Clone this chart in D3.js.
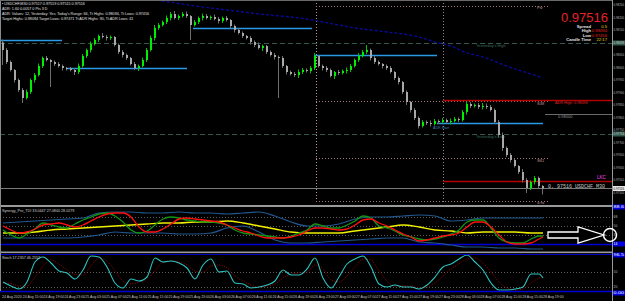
<!DOCTYPE html>
<html>
<head>
<meta charset="utf-8">
<script src="https://cdn.jsdelivr.net/npm/d3@7"></script>
<style>
  html, body { margin:0; padding:0; background:#000; overflow:hidden; }
  svg { display:block; }
  text { font-family: "Liberation Sans", Arial, sans-serif; }
</style>
</head>
<body>
<svg id="chart" width="625" height="301"></svg>
<script>
// ---- data ----
var firstOpen = 0.98100;
var closes = [
  0.98070,0.98022,0.97990,0.97950,0.97910,0.97878,0.97902,0.97950,0.97970,0.98006,
  0.98038,0.98030,0.98022,0.98014,0.98006,0.97998,0.97996,0.97990,0.97982,0.98006,
  0.98046,0.98070,0.98094,0.98110,0.98126,0.98122,0.98118,0.98122,0.98090,0.98062,
  0.98050,0.98038,0.98014,0.97998,0.98006,0.98030,0.98070,0.98118,0.98158,0.98170,
  0.98182,0.98198,0.98214,0.98198,0.98206,0.98214,0.98206,0.98170,0.98182,0.98198,
  0.98206,0.98198,0.98202,0.98194,0.98186,0.98198,0.98190,0.98166,0.98150,0.98138,
  0.98126,0.98118,0.98102,0.98090,0.98078,0.98086,0.98062,0.98050,0.98042,0.98038,
  0.98006,0.97982,0.97974,0.97970,0.97982,0.97990,0.97986,0.97998,0.98046,0.98006,
  0.97998,0.97990,0.97966,0.97982,0.97978,0.97986,0.97990,0.98006,0.98030,0.98046,
  0.98062,0.98070,0.98038,0.98022,0.98014,0.98006,0.97998,0.97982,0.97958,0.97942,
  0.97902,0.97862,0.97830,0.97798,0.97766,0.97782,0.97778,0.97774,0.97786,0.97782,
  0.97790,0.97782,0.97786,0.97794,0.97790,0.97822,0.97854,0.97846,0.97850,0.97842,
  0.97846,0.97842,0.97830,0.97782,0.97730,0.97678,0.97650,0.97630,0.97606,0.97582,
  0.97550,0.97518,0.97542,0.97558,0.97526,0.97516
];
// wick lengths above / below the body, in points
var wickHi = [
  12,8,6,4,6,8,10,6,8,10, 6,8,4,6,8,6,4,6,8,10, 8,6,10,8,6,12,8,6,4,6,
  8,6,4,8,6,10,8,10,12,8, 6,10,8,12,6,8,10,4,8,6, 10,8,6,10,8,6,8,4,6,8,
  6,4,8,6,10,6,4,6,8,6, 8,4,6,8,10,8,6,8,12,4, 6,8,6,4,8,6,10,8,6,12,
  8,20,6,8,6,4,6,8,4,6, 4,6,4,8,6,8,6,10,8,6, 8,6,10,8,6,8,10,8,6,8,
  12,10,8,6,8,10,6,8,6,4, 12,8,6,8,6,4
];
var wickLo = [
  60,8,6,10,8,20,6,8,10,6, 8,6,100,8,6,10,8,6,12,8, 6,8,10,6,8,6,10,8,6,8,
  10,8,6,8,12,6,8,6,10,8, 6,8,10,6,8,6,8,60,6,8, 10,6,8,6,10,8,6,8,10,6,
  8,6,10,8,6,12,8,6,10,160, 8,10,6,8,12,8,6,10,8,6, 10,8,6,12,8,6,10,8,6,8,
  6,8,10,8,6,10,8,6,8,10, 8,12,10,8,10,6,8,10,6,8, 6,8,10,6,8,6,10,8,6,8,
  10,8,6,8,10,12,8,10,6,8, 10,20,8,10,8,24
];
var maBars = [36,40,44,48,52,56,60,64,68,72,76,80,84,88,92,96,100,104,108,112,116,120,124,128,132,135];
var maValues = [0.98278,0.98266,0.98256,0.98246,0.98238,0.98230,0.98222,0.98214,0.98208,0.98202,
  0.98194,0.98182,0.98170,0.98158,0.98150,0.98142,0.98134,0.98122,0.98102,0.98086,
  0.98058,0.98042,0.98018,0.97994,0.97974,0.97958];

var sessionStart = [-0.75, 16, 47.5, 78, 108.5];
var sessionEnd = [14.75, 46, 77.25, 108.5, 135];
var sessionPrices = [0.98110, 0.97998, 0.98158, 0.98050, 0.97778];
var dayStarts = [78.25, 110];
var levelNames = ["Piv", "S38", "S61", "S78"];
var levelPrices = [0.98246, 0.97866, 0.97638, 0.97466];
var yesterdayNames = ["Yesterday's High", "Yesterday's Low"];
var yesterdayPrices = [0.98098, 0.97734];
var redNames = ["ADR High: 0.98094", "LKC"];
var redPrices = [0.97870, 0.97546];
var roundPrice = 0.97814;
var bidPrice = 0.97516;

var timeLabels = ["24 Aug 2020","24 Aug 15:00","24 Aug 19:00","24 Aug 23:00","25 Aug 03:00","25 Aug 07:00",
  "25 Aug 11:00","25 Aug 15:00","25 Aug 19:00","25 Aug 23:00","26 Aug 03:00","26 Aug 07:00","26 Aug 11:00",
  "26 Aug 15:00","26 Aug 19:00","26 Aug 23:00","27 Aug 03:00","27 Aug 07:00","27 Aug 11:00","27 Aug 15:00",
  "27 Aug 19:00","27 Aug 23:00","28 Aug 03:00","28 Aug 07:00","28 Aug 11:00","28 Aug 15:00","28 Aug 19:00"];

// TDI, sampled every 4 bars (slow) and every 2 bars (fast)
var tdiUpper = [56,58,60,62,64,66,76,78,78,76,76,78,76,76,74,76,78,70,58,50,50,54,64,68,68,70,72,70,60,62,66,66,66,66,66];
var tdiLower = [26,26,26,26,26,28,32,38,36,36,36,34,34,36,46,50,38,22,16,16,18,20,22,24,26,26,18,16,12,8,8,6,6,4,4];
var tdiBase = [36,36,38,42,44,46,48,50,52,54,56,56,58,58,60,56,50,44,38,36,36,36,40,44,48,52,48,42,40,36,38,38,38,36,36];
var tdiGreen = [42,32,26,34,44,56,52,48,46,54, 62,68,74,76,70,58,42,36,40,52, 64,68,66,62,60,58,58,56,52,42,
  36,34,32,30,28,26,30,36,42,54, 50,46,46,52,60,70,66,50,46,40, 32,28,24,22,24,28,34,42,58,62, 62,46,26,18,16,16,24,30,30];
var tdiRed = [50,42,36,38,44,52,54,56,52,48, 52,60,68,74,76,76,68,48,38,38, 44,54,64,66,64,62,60,58,52,46,
  40,36,30,26,26,26,28,32,40,46, 46,44,42,44,52,62,64,56,50,42, 34,28,20,22,26,30,32,36,48,58, 58,48,32,18,14,14,16,24,28];
var tdiLevels = [68, 50, 32];
var tdiBlue = 14;

var stochMain = [30,22,16,30,70,80,68,52,48,36, 54,82,80,60,28,18,36,32,40,78, 70,72,68,58,36,64,76,50,52,28,
  26,18,20,24,32,54,44,44,56,78, 38,18,40,66,76,82,60,26,20,24, 20,20,16,24,40,60,66,76,84,70, 54,28,14,14,16,20,46,46,38];
var stochSignal = [28,27,22,22,40,62,74,66,54,45, 44,62,78,72,52,32,26,30,36,52, 70,72,70,64,52,50,62,64,58,42,
  32,24,20,22,26,38,46,48,50,64, 56,34,30,42,60,76,74,52,32,22, 22,22,18,20,28,42,56,66,76,78, 68,50,30,18,14,16,28,38,42];
var stochLevels = [50, 20];

// ---- layout ----
var svg;
var plotR = 612;
var mainBot = 204, tdiTop = 208, tdiBot = 251, stoTop = 254, stoBot = 291;
var x = d3.scaleLinear().domain([0, 135]).range([3, 543]);
var yPrice = d3.scaleLinear().domain([0.97454, 0.98270]).range([204, 0]);
var yTdi = d3.scaleLinear().domain([0, 100]).range([251, 201]);
var ySto = d3.scaleLinear().domain([0, 100]).range([297, 247]);
var slowBars = d3.range(0, 133, 4).concat([135]);
var fastBars = d3.range(0, 135, 2).concat([135]);
var tiny = "3.7px";

document.addEventListener('DOMContentLoaded', function () {
  svg = d3.select("#chart");
  svg.append("rect").attr("width", 625).attr("height", 301).attr("fill", "#000");

  var defs = svg.append("defs");
  defs.append("clipPath").attr("id", "clipMain").append("rect").attr("x", 0).attr("y", 0).attr("width", plotR).attr("height", mainBot);
  defs.append("clipPath").attr("id", "clipTdi").append("rect").attr("x", 0).attr("y", tdiTop).attr("width", plotR).attr("height", tdiBot - tdiTop);
  defs.append("clipPath").attr("id", "clipSto").append("rect").attr("x", 0).attr("y", stoTop).attr("width", plotR).attr("height", stoBot - stoTop);

  drawMain();
  drawTdi();
  drawStoch();
  drawFrame();
  drawInfo();
});

function hline(g, y, x1, x2, color, dash, w) {
  g.append("line").attr("x1", x1).attr("x2", x2)
    .attr("y1", Math.round(y) + 0.5).attr("y2", Math.round(y) + 0.5)
    .attr("stroke", color).attr("stroke-width", w || 1)
    .attr("stroke-dasharray", dash || null);
}

function drawMain() {
  var g = svg.append("g").attr("clip-path", "url(#clipMain)");

  // day separators
  dayStarts.forEach(function (b, k) {
    g.append("line").attr("x1", Math.round(x(b)) + 0.5).attr("x2", Math.round(x(b)) + 0.5)
      .attr("y1", 0).attr("y2", mainBot)
      .attr("stroke", k === 0 ? "#b89a9a" : "#8a8a8a").attr("stroke-dasharray", "1,2");
  });

  // yesterday high / low dashed lines
  yesterdayPrices.forEach(function (p, k) {
    hline(g, yPrice(p), 0, plotR, "#35564c", "5,3");
    g.append("text").attr("x", 476).attr("y", yPrice(p) + 4).attr("fill", "#3d6d5e")
      .style("font-size", "4px").text(yesterdayNames[k]);
  });

  // pivot levels (dotted, from the day start)
  levelPrices.forEach(function (p, k) {
    hline(g, yPrice(p), x(dayStarts[0]), 548, "#a07878", "1,2");
    g.append("text").attr("x", 537).attr("y", yPrice(p) + (k === 0 ? 3 : 4)).attr("fill", "#c09a9a")
      .style("font-size", "4px").text(levelNames[k]);
  });

  // session high/low segments
  sessionPrices.forEach(function (p, k) {
    hline(g, yPrice(p), x(sessionStart[k]), x(sessionEnd[k]), "#2a9ae8", null, 1.3);
  });

  // round number line
  hline(g, yPrice(roundPrice), 545, plotR, "#6a6a6a");
  g.append("text").attr("x", 558).attr("y", yPrice(roundPrice) + 4).attr("fill", "#9a9a9a")
    .style("font-size", "4px").text("0.98000");
  g.append("text").attr("x", 433).attr("y", yPrice(sessionPrices[4]) + 6).attr("fill", "#4a7fb0")
    .style("font-size", "3.6px").text("ADR Start");

  // red ADR lines
  redPrices.forEach(function (p, k) {
    hline(g, yPrice(p), x(dayStarts[1]), plotR, "#b00000", null, 1.6);
  });
  g.append("text").attr("x", 555).attr("y", yPrice(redPrices[0]) + 3.5).attr("fill", "#e02020")
    .style("font-size", "3.8px").text(redNames[0]);
  g.append("text").attr("x", 597).attr("y", yPrice(redPrices[1]) - 2).attr("fill", "#ff4cff")
    .style("font-size", "4.5px").text(redNames[1]);

  // bid line
  hline(g, yPrice(bidPrice), 0, plotR, "#7a7a7a");

  // long MA
  var ma = d3.line().x(function (d, i) { return x(maBars[i]); }).y(function (d) { return yPrice(d); }).curve(d3.curveMonotoneX);
  g.append("path").attr("d", ma(maValues)).attr("fill", "none").attr("stroke", "#0a0a9a")
    .attr("stroke-width", 1.3).attr("stroke-dasharray", "3,2");

  // candles
  var opens = closes.map(function (c, i) { return i === 0 ? firstOpen : closes[i - 1]; });
  var cg = g.append("g");
  closes.forEach(function (c, i) {
    var o = opens[i];
    var bull = c > o;
    var col = bull ? "#00ee00" : "#a8a8a8";
    var hi = Math.max(o, c) + wickHi[i] * 1e-5;
    var lo = Math.min(o, c) - wickLo[i] * 1e-5;
    var cx = x(i);
    cg.append("line").attr("x1", cx - 0.5).attr("x2", cx - 0.5)
      .attr("y1", yPrice(hi)).attr("y2", yPrice(lo))
      .attr("stroke", bull ? "#00c000" : "#6e6e6e").attr("stroke-width", 1);
    var top = yPrice(Math.max(o, c)), bot = yPrice(Math.min(o, c));
    cg.append("rect").attr("x", cx - 1).attr("width", 2)
      .attr("y", top).attr("height", Math.max(1, bot - top)).attr("fill", col);
  });

  // price caption at the bid
  g.append("text").attr("x", 548).attr("y", yPrice(bidPrice) - 1).attr("fill", "#c8c8c8")
    .style("font-family", "'Liberation Mono', monospace").style("font-size", "5px")
    .text("0. 97516  USDCHF  M30");
}

function drawTdi() {
  var g = svg.append("g").attr("clip-path", "url(#clipTdi)");
  tdiLevels.forEach(function (v) { hline(g, yTdi(v), 0, plotR, "#5a5a5a", "1,2"); });
  hline(g, yTdi(tdiBlue), 0, plotR, "#0000d8", null, 1.6);

  var slow = d3.line().x(function (d, i) { return x(slowBars[i]); }).y(function (d) { return yTdi(d); }).curve(d3.curveMonotoneX);
  var fast = d3.line().x(function (d, i) { return x(fastBars[i]); }).y(function (d) { return yTdi(d); }).curve(d3.curveMonotoneX);
  g.append("path").attr("d", slow(tdiUpper)).attr("fill", "none").attr("stroke", "#22578e").attr("stroke-width", 1.2);
  g.append("path").attr("d", slow(tdiLower)).attr("fill", "none").attr("stroke", "#22578e").attr("stroke-width", 1.2);
  g.append("path").attr("d", slow(tdiBase)).attr("fill", "none").attr("stroke", "#f0f000").attr("stroke-width", 1.4);
  g.append("path").attr("d", fast(tdiGreen)).attr("fill", "none").attr("stroke", "#129612").attr("stroke-width", 1.3);
  g.append("path").attr("d", fast(tdiRed)).attr("fill", "none").attr("stroke", "#ff1010").attr("stroke-width", 1.3);

  svg.append("text").attr("x", 2).attr("y", tdiTop + 4).attr("fill", "#d0d0d0").style("font-size", tiny)
    .text("Synergy_Pro_TDI 33.0447 27.0800 28.0279");
}

function drawStoch() {
  var g = svg.append("g").attr("clip-path", "url(#clipSto)");
  stochLevels.forEach(function (v) { hline(g, ySto(v), 0, plotR, "#5a5a5a", "1,2"); });
  var fast = d3.line().x(function (d, i) { return x(fastBars[i]); }).y(function (d) { return ySto(d); }).curve(d3.curveMonotoneX);
  g.append("path").attr("d", fast(stochSignal)).attr("fill", "none").attr("stroke", "#a00000")
    .attr("stroke-width", 1).attr("stroke-dasharray", "1,1.5");
  g.append("path").attr("d", fast(stochMain)).attr("fill", "none").attr("stroke", "#2ec4c0").attr("stroke-width", 1.1);

  svg.append("text").attr("x", 2).attr("y", stoTop + 4.5).attr("fill", "#d0d0d0").style("font-size", tiny)
    .text("Stoch 17.2357 46.2552");
}

// small label squeezed into the 12px wide price scale
function axisText(y, col, label) {
  svg.append("text").attr("x", 613.5).attr("y", y + 1.2).attr("fill", col)
    .attr("textLength", String(label).length > 3 ? 10.5 : null)
    .attr("lengthAdjust", "spacingAndGlyphs")
    .style("font-size", "3.4px").text(label);
}

function drawFrame() {
  // panel separators and borders
  svg.append("rect").attr("x", 0).attr("y", 205).attr("width", plotR).attr("height", 2).attr("fill", "#9a9a9a");
  svg.append("rect").attr("x", 0).attr("y", 251.5).attr("width", plotR).attr("height", 1.6).attr("fill", "#9a9a9a");
  hline(svg, stoTop, 0, plotR, "#0000c0");
  hline(svg, stoBot, 0, plotR, "#0000d8", null, 1.4);
  svg.append("line").attr("x1", 0.5).attr("x2", 0.5).attr("y1", 0).attr("y2", stoBot).attr("stroke", "#8a8a8a");
  svg.append("line").attr("x1", 0).attr("x2", plotR).attr("y1", 0.5).attr("y2", 0.5).attr("stroke", "#6a6a6a");
  svg.append("line").attr("x1", plotR + 0.5).attr("x2", plotR + 0.5).attr("y1", 0).attr("y2", 301).attr("stroke", "#9a9a9a");

  // price axis
  var fmt = d3.format(".5f");
  var ticks = yPrice.ticks(16);
  ticks.forEach(function (d) { axisText(yPrice(d), "#b8b8b8", fmt(d)); });

  function axisBox(y, fill, txtCol, label) {
    svg.append("rect").attr("x", plotR + 1).attr("y", y - 2.5).attr("width", 12).attr("height", 5).attr("fill", fill);
    axisText(y, txtCol, label);
  }
  yesterdayPrices.forEach(function (p) { axisBox(yPrice(p), "#2f5a4c", "#d0d0d0", fmt(p)); });
  axisBox(yPrice(bidPrice), "#e8e8e8", "#000", fmt(bidPrice));

  // indicator scales
  tdiLevels.forEach(function (v) { axisText(yTdi(v), "#b8b8b8", v); });
  stochLevels.forEach(function (v) { axisText(ySto(v), "#b8b8b8", v); });
  axisBox(tdiTop - 1, "#0000e0", "#ffffff", "88.6");
  axisBox(yTdi(tdiBlue), "#0000e0", "#ffffff", tdiBlue);
  axisBox(stoTop + 1, "#0000e0", "#ffffff", "96.5");
  axisBox(stoBot + 2, "#0000e0", "#ffffff", "0.00");

  // time axis
  var t = d3.scalePoint().domain(timeLabels).range([2, 543]);
  svg.selectAll(".ttick").data(timeLabels).enter().append("text")
    .attr("x", function (d) { return t(d); }).attr("y", 298)
    .attr("fill", "#c0c0c0").style("font-size", "3.5px").text(function (d) { return d; });

  // arrow annotation pointing at the 32 level of the TDI
  var ay = yTdi(tdiLevels[2]);
  var pts = [[548, ay - 3], [578, ay - 3], [578, ay - 8], [604, ay], [578, ay + 8], [578, ay + 3], [548, ay + 3]];
  svg.append("polygon").attr("points", pts.map(function (p) { return p.join(","); }).join(" "))
    .attr("fill", "#000").attr("stroke", "#ffffff").attr("stroke-width", 1.3);
  svg.append("circle").attr("cx", 610).attr("cy", ay).attr("r", 6.5)
    .attr("fill", "none").attr("stroke", "#ffffff").attr("stroke-width", 1.4);
}

function drawInfo() {
  var lines = [
    "\u25AA USDCHF,M30  0.97517 0.97519 0.97515 0.97516",
    "ADR: 1.60 0.0057 0 Pts 3 D",
    "ADR: Values: 12, Yesterday: Yes; Today's Range: 66, Tt Highs: 0.98094, Tt Lows: 0.97456",
    "Target Highs: 0.98094  Target Lows: 0.97471  Tt ADR Highs: 90, Tt ADR Lows: 41"
  ];
  svg.selectAll(".info").data(lines).enter().append("text")
    .attr("x", 2).attr("y", function (d, i) { return 4.5 + i * 5; })
    .attr("fill", "#e0e0e0").style("font-size", tiny).text(function (d) { return d; });

  svg.append("text").attr("x", 608).attr("y", 21.5).attr("text-anchor", "end")
    .attr("fill", "#e8202a").style("font-size", "13px").text("0.97516");

  var rows = [["Spread", "0.5", "#e8d000"], ["High", "0.98094", "#e02020"], ["Low", "0.97456", "#e02020"], ["Candle Time", "22:17", "#e8d000"]];
  rows.forEach(function (r, k) {
    var yy = 27.5 + k * 4.6;
    svg.append("text").attr("x", 591).attr("y", yy).attr("text-anchor", "end")
      .attr("fill", "#e0e0e0").style("font-size", "4.2px").style("font-weight", "bold").text(r[0]);
    svg.append("text").attr("x", 607).attr("y", yy).attr("text-anchor", "end")
      .attr("fill", r[2]).style("font-size", "4.2px").text(r[1]);
  });
}
</script>
</body>
</html>
